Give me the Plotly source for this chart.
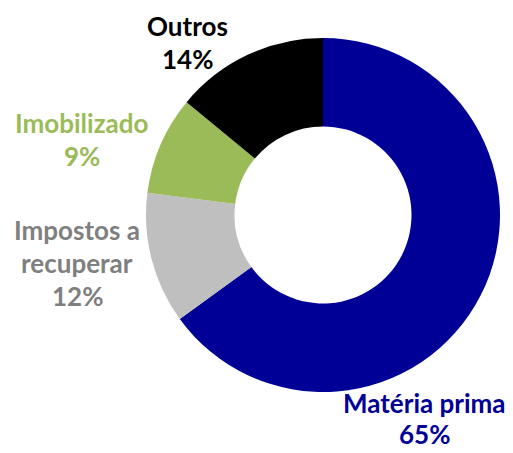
import plotly.graph_objects as go

labels = ["Matéria prima", "Impostos a recuperar", "Imobilizado", "Outros"]
values = [65, 12, 9, 14]
slice_colors = ["#000096", "#BFBFBF", "#9BBB59", "#000000"]
text_colors = ["#000096", "#7F7F7F", "#9BBB59", "#000000"]
label_lines = [["Matéria prima"], ["Impostos a", "recuperar"], ["Imobilizado"], ["Outros"]]

W, H = 513, 453
OFF = 8  # page body margin
# label anchor positions (pixels: center x, first line y, line spacing)
label_pos = [(424, 403, 31), (77, 230, 33), (82, 123, 33), (187, 26, 33)]
cx0, cy0, R = 323 - OFF, 215 - OFF, 177

fig = go.Figure(go.Pie(
    labels=labels, values=values, hole=0.5, sort=False, direction="clockwise",
    rotation=0, marker=dict(colors=slice_colors, line=dict(width=0)),
    textinfo="none", hoverinfo="label+percent", showlegend=False,
    domain=dict(x=[(cx0 - R) / W, (cx0 + R) / W], y=[(H - cy0 - R) / H, (H - cy0 + R) / H]),
))

annotations = []
for i, lines in enumerate(label_lines):
    cx, y0, gap = label_pos[i]
    all_lines = lines + [f"{values[i]}%"]
    for j, t in enumerate(all_lines):
        annotations.append(dict(
            x=(cx - OFF) / W, y=(H - (y0 - OFF + j * gap)) / H, xref="paper", yref="paper",
            text=f"<b>{t}</b>", showarrow=False, xanchor="center", yanchor="middle",
            font=dict(family="Lato, Open Sans, sans-serif", size=26, color=text_colors[i]),
        ))

fig.update_layout(
    width=W, height=H, margin=dict(l=0, r=0, t=0, b=0),
    paper_bgcolor="white", plot_bgcolor="white", annotations=annotations,
)
fig.write_html("out.html")
